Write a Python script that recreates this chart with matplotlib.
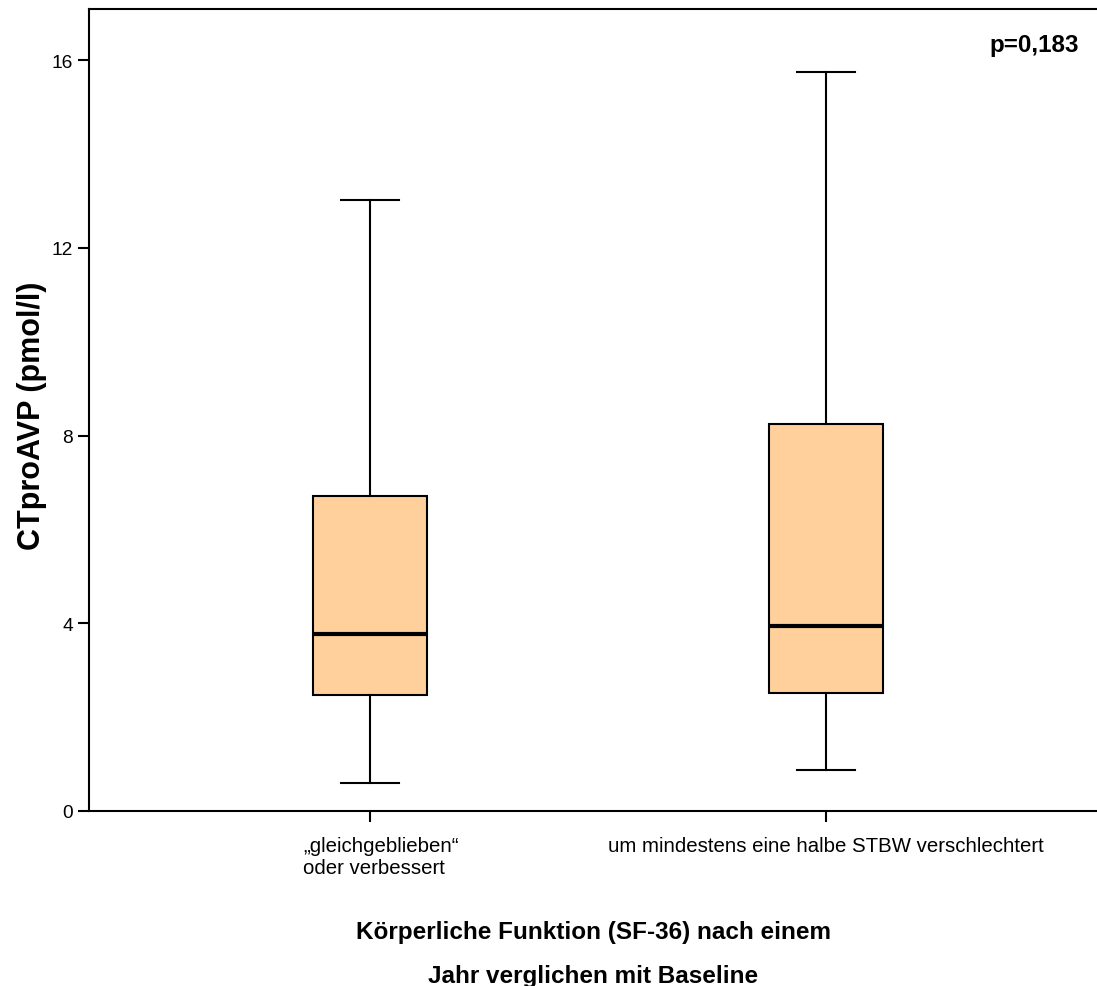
import matplotlib
matplotlib.use("Agg")
import matplotlib.pyplot as plt
import matplotlib.transforms as mtransforms

plt.rcParams['font.family'] = ['Liberation Sans', 'DejaVu Sans']

# Daten
groups = ["\u201egleichgeblieben\u201c\noder verbessert",
          "um mindestens eine halbe STBW verschlechtert"]
whisker_low = [0.60, 0.87]
q1 = [2.47, 2.51]
median = [3.77, 3.94]
q3 = [6.71, 8.24]
whisker_high = [13.02, 15.74]
yticks = [0, 4, 8, 12, 16]
p_text = "p=0,183"

stats = []
for i in range(len(groups)):
    stats.append({'whislo': whisker_low[i], 'q1': q1[i], 'med': median[i],
                  'q3': q3[i], 'whishi': whisker_high[i], 'fliers': []})

fig = plt.figure(figsize=(10.97, 9.87), dpi=100)
ax = fig.add_axes([89 / 1097, 1 - 812 / 987, 1 - 89 / 1097, (812 - 10) / 987])

ax.bxp(stats, positions=[1, 2], widths=0.25, patch_artist=True, showfliers=False,
       boxprops=dict(facecolor='#FFD09B', edgecolor='black', linewidth=1.5),
       medianprops=dict(color='black', linewidth=3),
       whiskerprops=dict(color='black', linewidth=1.5),
       capprops=dict(color='black', linewidth=1.5),
       capwidths=0.127)

ax.set_xlim(0.384, 2.594)
ax.set_ylim(0, 17.09)
ax.set_yticks(yticks)
ax.set_xticks([1, 2])
ax.set_xticklabels(groups, fontsize=14.7, multialignment='left', va='top')
ax.tick_params(axis='y', labelsize=13.8, length=8, width=1.5)
ax.tick_params(axis='x', length=8, width=1.5, pad=10)
ax.spines['right'].set_visible(False)
for s in ['left', 'top', 'bottom']:
    ax.spines[s].set_linewidth(1.5)

# erste Kategorie im Original etwas nach rechts versetzt
lbl = ax.get_xticklabels()[0]
lbl.set_transform(lbl.get_transform() + mtransforms.ScaledTranslation(0.11, 0, fig.dpi_scale_trans))

ax.set_ylabel("CTproAVP (pmol/l)", fontsize=22, fontweight='bold')
ax.yaxis.set_label_coords(-0.042, 0.494)

fig.text(593 / 1097, 1 - 933 / 987, "Körperliche Funktion (SF-36) nach einem",
         ha='center', va='center', fontsize=17.5, fontweight='bold')
fig.text(593 / 1097, 1 - 977 / 987, "Jahr verglichen mit Baseline",
         ha='center', va='center', fontsize=17.5, fontweight='bold')

ax.text(0.982, 0.97, p_text, transform=ax.transAxes, ha='right', va='top',
        fontsize=17.4, fontweight='bold')

fig.savefig("out.png", dpi=100)
